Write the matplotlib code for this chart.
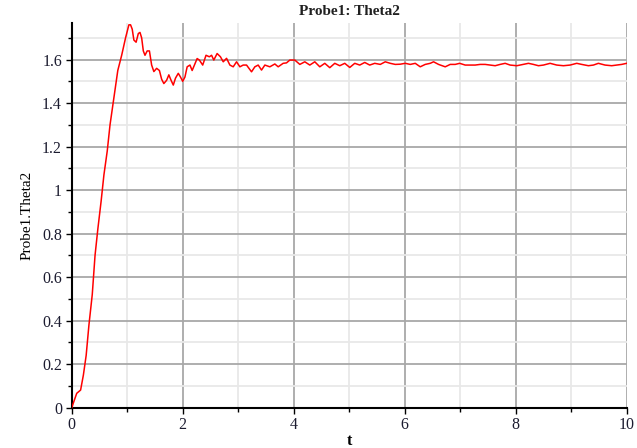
import numpy as np
import matplotlib
matplotlib.use("Agg")
import matplotlib.pyplot as plt
from matplotlib.ticker import MultipleLocator, FormatStrFormatter

# values (t, Probe1.Theta2)
t = [0.0, 0.09, 0.16, 0.21, 0.26, 0.31, 0.37, 0.42, 0.47, 0.53, 0.58, 0.64,
     0.69, 0.74, 0.78, 0.83, 0.90, 0.97, 1.03, 1.06, 1.09, 1.12, 1.16, 1.20,
     1.23, 1.26, 1.29, 1.32, 1.36, 1.40, 1.44, 1.48, 1.53, 1.58, 1.62, 1.66,
     1.71, 1.75, 1.79, 1.83, 1.87, 1.92, 1.96, 2.00, 2.04, 2.08, 2.13, 2.17,
     2.22, 2.26, 2.30, 2.36, 2.42, 2.48, 2.52, 2.56, 2.62, 2.68, 2.73, 2.79,
     2.85, 2.91, 2.97, 3.03, 3.09, 3.15, 3.24, 3.30, 3.36, 3.42, 3.48, 3.57,
     3.66, 3.72, 3.81, 3.87, 3.93, 4.02, 4.11, 4.20, 4.29, 4.38, 4.47, 4.56,
     4.65, 4.74, 4.83, 4.92, 5.01, 5.10, 5.19, 5.28, 5.37, 5.46, 5.56, 5.65,
     5.74, 5.83, 5.92, 6.01, 6.10, 6.19, 6.28, 6.37, 6.46, 6.52, 6.61, 6.73,
     6.82, 6.91, 6.99, 7.09, 7.18, 7.27, 7.36, 7.45, 7.54, 7.63, 7.72, 7.81,
     7.90, 8.02, 8.14, 8.23, 8.32, 8.41, 8.50, 8.62, 8.74, 8.86, 8.98, 9.10,
     9.19, 9.31, 9.40, 9.49, 9.61, 9.73, 9.82, 9.91, 10.0]
theta2 = [0.0, 0.066, 0.081, 0.15, 0.24, 0.38, 0.52, 0.70, 0.82, 0.95, 1.07, 1.18,
          1.30, 1.39, 1.46, 1.55, 1.62, 1.70, 1.76, 1.76, 1.74, 1.69, 1.68, 1.72,
          1.725, 1.70, 1.64, 1.62, 1.64, 1.64, 1.575, 1.545, 1.56, 1.55, 1.51, 1.49,
          1.505, 1.53, 1.505, 1.483, 1.515, 1.537, 1.52, 1.50, 1.52, 1.567, 1.575, 1.55,
          1.58, 1.605, 1.598, 1.575, 1.62, 1.613, 1.62, 1.598, 1.628, 1.613, 1.59, 1.606,
          1.575, 1.567, 1.59, 1.567, 1.575, 1.575, 1.544, 1.567, 1.575, 1.552, 1.575, 1.567,
          1.58, 1.567, 1.583, 1.585, 1.598, 1.598, 1.578, 1.59, 1.575, 1.59, 1.567, 1.583,
          1.563, 1.583, 1.572, 1.583, 1.564, 1.583, 1.575, 1.587, 1.575, 1.583, 1.578, 1.59,
          1.583, 1.578, 1.579, 1.583, 1.578, 1.583, 1.567, 1.578, 1.583, 1.59, 1.578, 1.567,
          1.578, 1.578, 1.583, 1.575, 1.575, 1.575, 1.578, 1.578, 1.575, 1.572, 1.578, 1.583,
          1.575, 1.572, 1.578, 1.583, 1.578, 1.572, 1.575, 1.583, 1.575, 1.572, 1.575, 1.583,
          1.578, 1.572, 1.575, 1.583, 1.575, 1.572, 1.575, 1.578, 1.583]

serif = "Liberation Serif"
tick_col = "#1c1c30"

fig = plt.figure(figsize=(6.37, 4.48), dpi=100)
ax = fig.add_axes([0.1126, 0.09, 0.8712, 0.858])

ax.plot(t, theta2, color="#ff0000", lw=1.1, zorder=3)

ax.set_xlim(0, 10)
ax.set_ylim(0, 1.767)
ax.xaxis.set_major_locator(MultipleLocator(2))
ax.xaxis.set_minor_locator(MultipleLocator(1))
ax.yaxis.set_major_locator(MultipleLocator(0.2))
ax.yaxis.set_minor_locator(MultipleLocator(0.1))
ax.yaxis.set_major_formatter(FormatStrFormatter("%g"))

ax.grid(which="major", color="#a8a8a8", lw=1.3, zorder=0)
ax.grid(which="minor", color="#e8e8e8", lw=1.3, zorder=0)
ax.set_axisbelow(True)

for s in ["top", "right"]:
    ax.spines[s].set_visible(False)
for s in ["left", "bottom"]:
    ax.spines[s].set_linewidth(1.5)
    ax.spines[s].set_color("black")

ax.tick_params(which="major", direction="out", length=4, width=1, pad=3,
               labelsize=11.5, labelcolor=tick_col)
ax.tick_params(which="minor", direction="out", length=3, width=1)
for lab in ax.get_xticklabels() + ax.get_yticklabels():
    lab.set_family(serif)

ax.set_title("Probe1: Theta2", family=serif, fontsize=11, fontweight="bold",
             color="#202020", pad=6)
ax.set_xlabel("t", family=serif, fontsize=11.5, fontweight="bold", labelpad=0)
ax.set_ylabel("Probe1.Theta2", family=serif, fontsize=11, labelpad=6)

fig.savefig("out.png", dpi=100)
